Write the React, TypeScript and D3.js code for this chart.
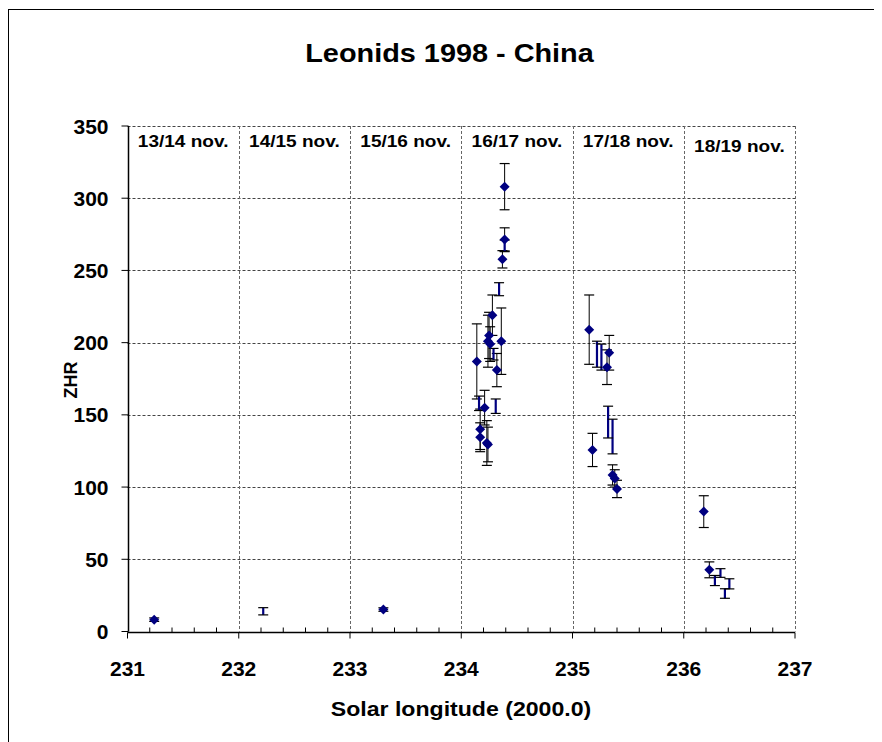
import React, { useEffect, useRef } from 'react'
import * as d3 from 'd3'

// series with diamond markers: solar longitude, ZHR, error
const lonA = [231.24, 233.3, 234.14, 234.17, 234.17, 234.21, 234.23, 234.24, 234.25, 234.24, 234.26, 234.28, 234.32, 234.36, 234.37, 234.39, 234.39, 235.15, 235.18, 235.31, 235.33, 235.36, 235.38, 235.4, 236.18, 236.23]
const zhrA = [8.2, 15.2, 187, 140, 134.5, 155, 130.5, 129.5, 205, 201, 199, 219, 181, 201, 257.7, 271.5, 308, 209, 125.7, 183, 193, 108.4, 106, 98.7, 83, 42.7]
const errA = [1.2, 1.2, 26, 14, 10, 12, 15.5, 12, 16, 18, 12, 14, 11.5, 23, 6, 8, 16, 24, 11.5, 12, 12, 7, 6, 6, 11, 5.5]

// series drawn without marker (blue bar only)
const lonB = [232.22, 234.16, 234.29, 234.31, 234.34, 234.39, 235.22, 235.26, 235.32, 235.36, 236.28, 236.33, 236.37, 236.41]
const zhrB = [14, 158, 192, 156, 237, 267, 192, 190, 145, 135, 35.3, 40.5, 26.3, 33]
const errB = [2.5, 5, 4, 5, 4.5, 4, 9, 9, 11, 12, 3.5, 3, 3.3, 3.5]

const nightLabels = ['13/14 nov.', '14/15 nov.', '15/16 nov.', '16/17 nov.', '17/18 nov.', '18/19 nov.']
const xTicks = [231, 232, 233, 234, 235, 236, 237]
const yTicks = [0, 50, 100, 150, 200, 250, 300, 350]

const font = 'Arial, "Liberation Sans", sans-serif'

function App() {
  const refSvg = useRef(null)

  const draw = () => {
    const root = d3.select(refSvg.current)
    root.selectAll('*').remove()
    // work in page coordinates (svg sits at the 8px body margin)
    const svg = root.append('g').attr('transform', 'translate(-8,-8)')

    const x = d3.scaleLinear().domain([231, 237]).range([127.5, 795])
    const y = d3.scaleLinear().domain([0, 350]).range([631.5, 126])

    // outer frame
    svg.append('rect').attr('x', 8.5).attr('y', 9.5).attr('width', 900).attr('height', 800)
      .attr('fill', 'white').attr('stroke', 'black').attr('stroke-width', 1)

    // horizontal grid
    svg.append('g').selectAll('line').data(yTicks.filter((d) => d > 0)).join('line')
      .attr('x1', x(231)).attr('x2', x(237))
      .attr('y1', (d) => Math.round(y(d)) + 0.5).attr('y2', (d) => Math.round(y(d)) + 0.5)
      .attr('stroke', '#444').attr('stroke-dasharray', '3,2').attr('stroke-width', 1)

    // vertical grid
    svg.append('g').selectAll('line').data(xTicks.slice(1)).join('line')
      .attr('x1', (d) => Math.round(x(d)) + 0.5).attr('x2', (d) => Math.round(x(d)) + 0.5)
      .attr('y1', y(350)).attr('y2', y(0))
      .attr('stroke', '#666').attr('stroke-dasharray', '3,2').attr('stroke-width', 1)

    // x axis: major ticks out, minor ticks in
    const xAxis = svg.append('g').attr('transform', `translate(0,${Math.round(y(0)) + 0.5})`)
    xAxis.append('line').attr('x1', x(231)).attr('x2', x(237)).attr('stroke', 'black').attr('stroke-width', 1.5)
    xAxis.selectAll('line.major').data(xTicks).join('line').attr('class', 'major')
      .attr('x1', (d) => x(d)).attr('x2', (d) => x(d)).attr('y1', 0).attr('y2', 6)
      .attr('stroke', 'black')
    xAxis.selectAll('line.minor').data(d3.range(231.2, 237, 0.2).filter((d) => Math.abs(d - Math.round(d)) > 0.05)).join('line').attr('class', 'minor')
      .attr('x1', (d) => x(d)).attr('x2', (d) => x(d)).attr('y1', 0).attr('y2', -5)
      .attr('stroke', 'black')
    xAxis.selectAll('text').data(xTicks).join('text')
      .attr('x', (d) => x(d)).attr('y', 43)
      .attr('text-anchor', 'middle').attr('font-family', font).attr('font-weight', 'bold').attr('font-size', 21)
      .text((d) => d)

    // y axis
    const yAxis = svg.append('g').attr('transform', `translate(${Math.round(x(231)) + 0.5},0)`)
    yAxis.append('line').attr('y1', y(0)).attr('y2', y(350)).attr('stroke', 'black').attr('stroke-width', 1.5)
    yAxis.selectAll('line.tick').data(yTicks).join('line').attr('class', 'tick')
      .attr('x1', -7).attr('x2', 0).attr('y1', (d) => y(d)).attr('y2', (d) => y(d))
      .attr('stroke', 'black')
    yAxis.selectAll('text').data(yTicks).join('text')
      .attr('x', -20).attr('y', (d) => y(d)).attr('dy', '0.36em')
      .attr('text-anchor', 'end').attr('font-family', font).attr('font-weight', 'bold').attr('font-size', 21)
      .text((d) => d)

    // night labels (slightly wide lettering, as in the original)
    svg.append('g').selectAll('text').data(nightLabels).join('text')
      .attr('transform', (d, i) => `translate(${x(231.5 + i)},${i === nightLabels.length - 1 ? 152 : 147}) scale(1.12,1)`)
      .attr('text-anchor', 'middle').attr('font-family', font).attr('font-weight', 'bold').attr('font-size', 17)
      .text((d) => d)

    const capW = 5
    const drawErr = (g: any, lons: number[], zhrs: number[], errs: number[], barColor: string, barWidth: number) => {
      const items = lons.map((l, i) => ({ l, z: zhrs[i], e: errs[i] }))
      const gg = g.append('g')
      gg.selectAll('line.bar').data(items).join('line').attr('class', 'bar')
        .attr('x1', (d: any) => x(d.l)).attr('x2', (d: any) => x(d.l))
        .attr('y1', (d: any) => y(d.z + d.e)).attr('y2', (d: any) => y(d.z - d.e))
        .attr('stroke', barColor).attr('stroke-width', barWidth)
      gg.selectAll('line.top').data(items).join('line').attr('class', 'top')
        .attr('x1', (d: any) => x(d.l) - capW).attr('x2', (d: any) => x(d.l) + capW)
        .attr('y1', (d: any) => y(d.z + d.e)).attr('y2', (d: any) => y(d.z + d.e))
        .attr('stroke', 'black').attr('stroke-width', 1.2)
      gg.selectAll('line.bot').data(items).join('line').attr('class', 'bot')
        .attr('x1', (d: any) => x(d.l) - capW).attr('x2', (d: any) => x(d.l) + capW)
        .attr('y1', (d: any) => y(d.z - d.e)).attr('y2', (d: any) => y(d.z - d.e))
        .attr('stroke', 'black').attr('stroke-width', 1.2)
    }

    const plot = svg.append('g')
    drawErr(plot, lonA, zhrA, errA, 'black', 1)
    drawErr(plot, lonB, zhrB, errB, '#000080', 2.2)

    // diamond markers
    plot.append('g').selectAll('path').data(lonA.map((l, i) => ({ l, z: zhrA[i] }))).join('path')
      .attr('d', (d) => {
        const cx = x(d.l), cy = y(d.z)
        return `M${cx},${cy - 5}L${cx + 5},${cy}L${cx},${cy + 5}L${cx - 5},${cy}Z`
      })
      .attr('fill', '#000080')

    // title and axis titles
    svg.append('text').attr('transform', 'translate(449.5,62) scale(1.11,1)').attr('text-anchor', 'middle')
      .attr('font-family', font).attr('font-weight', 'bold').attr('font-size', 26)
      .text('Leonids 1998 - China')
    svg.append('text').attr('transform', 'translate(461,716) scale(1.1,1)').attr('text-anchor', 'middle')
      .attr('font-family', font).attr('font-weight', 'bold').attr('font-size', 21)
      .text('Solar longitude (2000.0)')
    svg.append('text').attr('transform', 'translate(77,380) rotate(-90)').attr('text-anchor', 'middle')
      .attr('font-family', font).attr('font-weight', 'bold').attr('font-size', 18)
      .text('ZHR')
  }

  useEffect(() => {
    if (refSvg) {
      draw()
    }
  })

  return (
    <svg ref={refSvg} width={874} height={734} style={{ display: 'block', overflow: 'hidden' }} />
  )
}

export default App
